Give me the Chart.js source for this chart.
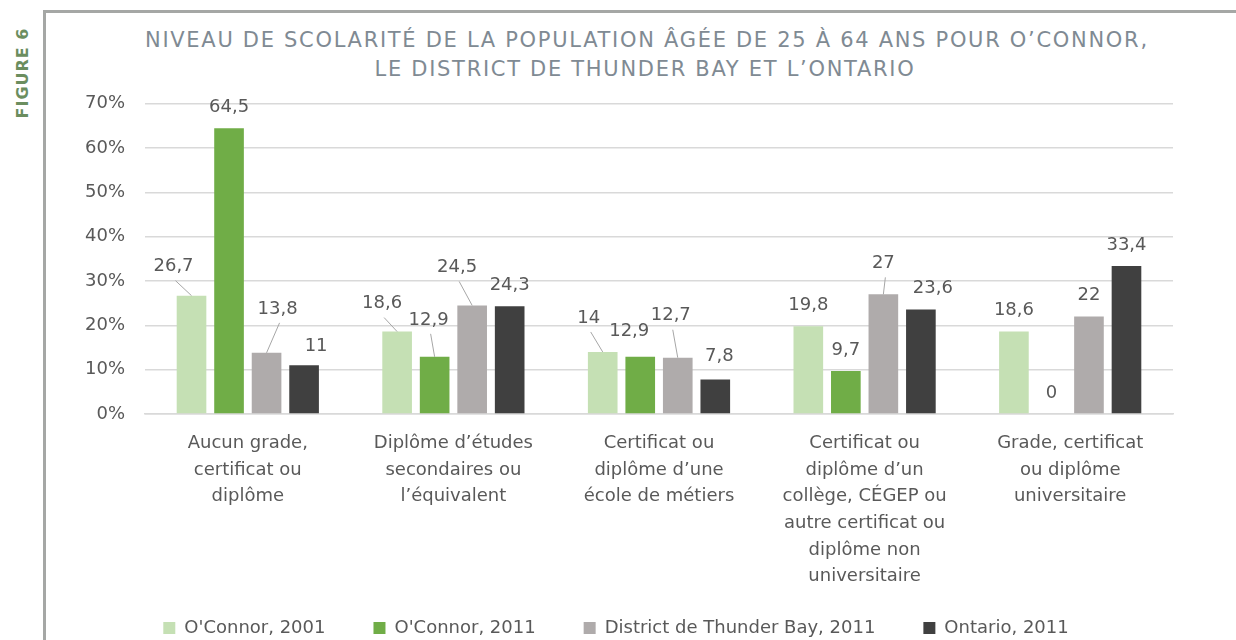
<!DOCTYPE html>
<html lang="fr">
<head>
<meta charset="utf-8">
<script src="https://cdn.jsdelivr.net/npm/chart.js@4.4.1/dist/chart.umd.min.js"></script>
<style>
  html, body { margin: 0; padding: 0; background: #fff; }
  body { width: 1236px; height: 640px; position: relative; overflow: hidden; font-family: "DejaVu Sans", sans-serif; }
  .frame { position: absolute; left: 43px; top: 10px; right: -10px; bottom: -10px; border-left: 3px solid #a5a7a5; border-top: 3px solid #a5a7a5; }
  .figure { position: absolute; left: 22px; top: 73px; transform: translate(-50%, -50%) rotate(-90deg); color: #6b8e5f; font-weight: bold; font-size: 16px; letter-spacing: 1px; white-space: nowrap; }
  .title { position: absolute; left: 145px; width: 1000px; top: 26px; text-align: center; color: #808a93; font-size: 21px; letter-spacing: 1.7px; line-height: 29px; white-space: nowrap; }
  .wrap { position: absolute; left: 59px; top: 73px; width: 1177px; height: 574px; }
</style>
</head>
<body>
<div class="frame"></div>
<div class="figure">FIGURE 6</div>
<div class="title">NIVEAU DE SCOLARITÉ DE LA POPULATION ÂGÉE DE 25 À 64 ANS POUR O’CONNOR,<br>LE DISTRICT DE THUNDER BAY ET L’ONTARIO</div>
<div class="wrap"><canvas id="chart" width="1177" height="574"></canvas></div>
<script>
// Données du graphique (en %)
const categories = [
  ["Aucun grade,", "certificat ou", "diplôme"],
  ["Diplôme d’études", "secondaires ou", "l’équivalent"],
  ["Certificat ou", "diplôme d’une", "école de métiers"],
  ["Certificat ou", "diplôme d’un", "collège, CÉGEP ou", "autre certificat ou", "diplôme non", "universitaire"],
  ["Grade, certificat", "ou diplôme", "universitaire"],
];
const seriesNames = ["O'Connor, 2001", "O'Connor, 2011", "District de Thunder Bay, 2011", "Ontario, 2011"];
const oconnor2001 = [26.7, 18.6, 14, 19.8, 18.6];
const oconnor2011 = [64.5, 12.9, 12.9, 9.7, 0];
const thunderBay2011 = [13.8, 24.5, 12.7, 27, 22];
const ontario2011 = [11, 24.3, 7.8, 23.6, 33.4];
const yTickLabels = ["0%", "10%", "20%", "30%", "40%", "50%", "60%", "70%"];

// Style : couleurs et décalage des étiquettes (dx, dy, trait de rappel)
const colors = ["#c5e0b4", "#70ad47", "#afabab", "#404040"];
const labelShifts = [
  [[-18, -8, 1], [-15, -7, 1], [-14, -13, 1], [0, 0, 0], [0, 0, 0]],
  [[0, 0, 0], [-6, -16, 1], [-11, -5, 0], [0, 0, 0], [0, 0, 0]],
  [[11, -23, 1], [-15, -17, 1], [-7, -21, 1], [0, -10, 1], [0, 0, 0]],
  [[12, 2, 0], [0, 0, 0], [4, -2, 0], [12, 0, 0], [0, 0, 0]],
];

const textColor = "#595959";
const font = { family: "'DejaVu Sans', sans-serif", size: 18 };

// Étiquettes de données avec traits de rappel
const dataLabels = {
  id: "dataLabels",
  afterDatasetsDraw(chart) {
    const ctx = chart.ctx;
    ctx.save();
    ctx.font = "18px 'DejaVu Sans', sans-serif";
    ctx.fillStyle = textColor;
    ctx.textAlign = "center";
    ctx.textBaseline = "middle";
    chart.data.datasets.forEach(function (ds, i) {
      chart.getDatasetMeta(i).data.forEach(function (bar, j) {
        const shift = labelShifts[i][j];
        const tx = bar.x + shift[0];
        const ty = bar.y - 21 + shift[1];
        if (shift[2]) {
          ctx.strokeStyle = "#a6a6a6";
          ctx.lineWidth = 1;
          ctx.beginPath();
          ctx.moveTo(bar.x, bar.y);
          ctx.lineTo(tx + 2, ty + 14);
          ctx.stroke();
        }
        ctx.fillText(String(ds.data[j]).replace(".", ","), tx, ty);
      });
    });
    ctx.restore();
  },
};

new Chart(document.getElementById("chart").getContext("2d"), {
  type: "bar",
  data: {
    labels: categories,
    datasets: [oconnor2001, oconnor2011, thunderBay2011, ontario2011].map(function (d, i) {
      return {
        label: seriesNames[i],
        data: d,
        backgroundColor: colors[i],
        categoryPercentage: 0.73,
        barPercentage: 0.79,
      };
    }),
  },
  options: {
    responsive: false,
    animation: false,
    layout: { padding: { top: 5, right: 63, bottom: 0, left: 0 } },
    plugins: {
      title: { display: false },
      tooltip: { enabled: false },
      legend: {
        position: "bottom",
        labels: {
          color: textColor,
          font: font,
          boxWidth: 12,
          boxHeight: 12,
          padding: 48,
        },
      },
    },
    scales: {
      y: {
        min: 0,
        max: 70,
        ticks: {
          stepSize: 10,
          color: textColor,
          font: font,
          padding: 20,
          callback: function (v, i) { return yTickLabels[i]; },
        },
        grid: { color: "#d9d9d9", lineWidth: 1.5, drawTicks: false },
        border: { display: false },
        afterFit: function (scale) { scale.width = 86; },
      },
      x: {
        ticks: {
          color: textColor,
          font: { family: font.family, size: 18, lineHeight: 1.48 },
          padding: 8,
          maxRotation: 0,
          autoSkip: false,
        },
        grid: { display: false },
        border: { color: "#d9d9d9", width: 1.5 },
        afterFit: function (scale) {
          scale.height = 157;
          // les étiquettes longues débordent sous l'axe, comme dans Excel
          scale._computeLabelArea = function () { return undefined; };
        },
      },
    },
  },
  plugins: [dataLabels],
});
</script>
</body>
</html>
